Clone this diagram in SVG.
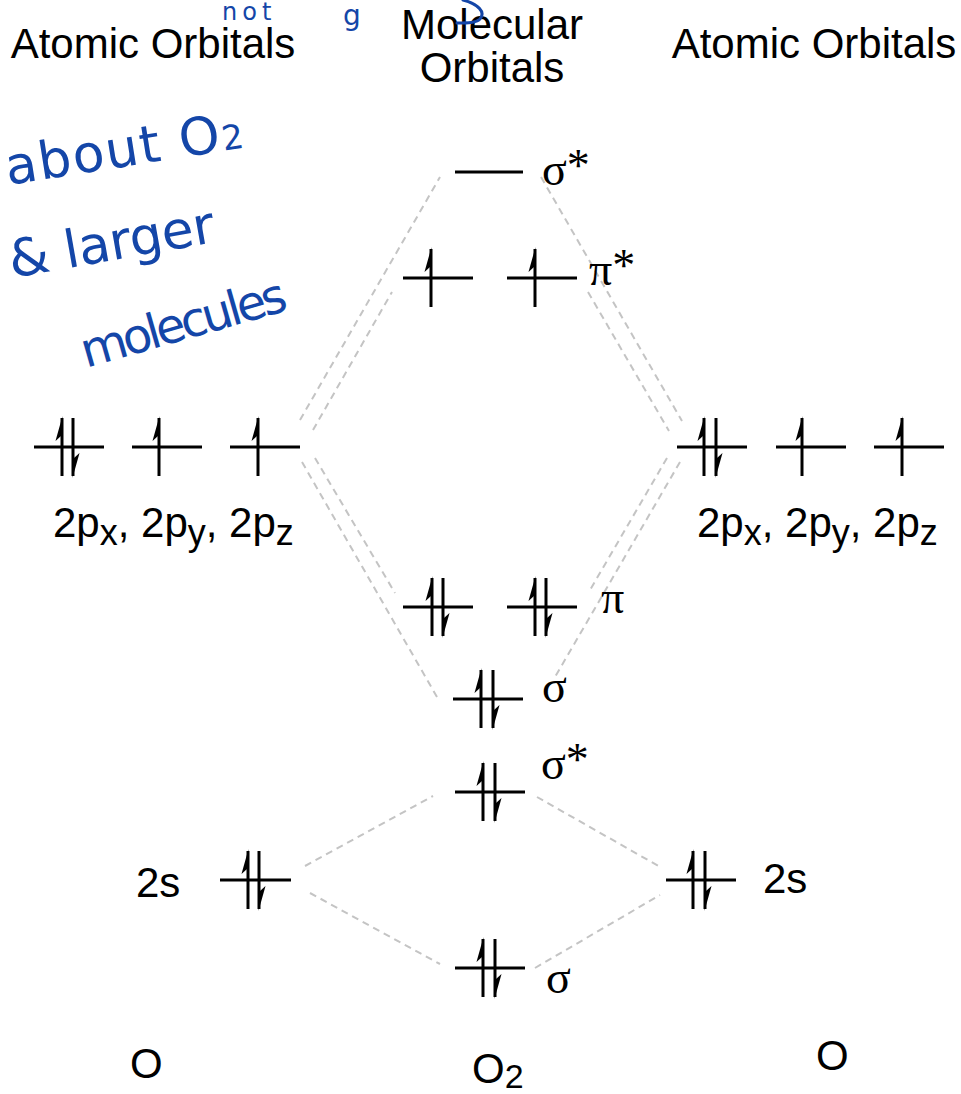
<svg xmlns="http://www.w3.org/2000/svg" xmlns:xlink="http://www.w3.org/1999/xlink" width="961" height="1094" viewBox="0 0 961 1094">
<style>
.t{font-family:"Liberation Sans",Arial,sans-serif;font-size:42px;fill:#000}
.g{font-family:"Liberation Serif","Times New Roman",serif;font-size:46px;fill:#000}
.lv{stroke:#000;stroke-width:3;fill:none}
.ar line{stroke:#000;stroke-width:3}
.ar polygon{fill:#000}
.dash{stroke:#c4c4c4;stroke-width:2;stroke-dasharray:7 5;fill:none}
.hw{font-family:"DejaVu Sans",sans-serif;fill:#1446a8}
</style>
<defs>
<g id="up" class="ar"><line x1="0" y1="-29" x2="0" y2="29"/><polygon points="0.5,-31 -6.5,-6 -1,-11"/></g>
<g id="dn" class="ar"><line x1="0" y1="-29" x2="0" y2="29"/><polygon points="-0.5,31 6.5,6 1,11"/></g>
</defs>
<rect width="961" height="1094" fill="#fff"/>

<g id="connectors">
<line class="dash" x1="300" y1="420" x2="440" y2="177"/>
<line class="dash" x1="313" y1="430" x2="392" y2="292"/>
<line class="dash" x1="302" y1="462" x2="437" y2="697"/>
<line class="dash" x1="315" y1="458" x2="395" y2="593"/>
<line class="dash" x1="541" y1="177" x2="682" y2="421"/>
<line class="dash" x1="588" y1="292" x2="669" y2="431"/>
<line class="dash" x1="680" y1="462" x2="555" y2="677"/>
<line class="dash" x1="667" y1="458" x2="590" y2="590"/>
<line class="dash" x1="305" y1="866" x2="433" y2="796"/>
<line class="dash" x1="310" y1="893" x2="440" y2="964"/>
<line class="dash" x1="537" y1="797" x2="662" y2="868"/>
<line class="dash" x1="535" y1="968" x2="660" y2="895"/>
</g>

<g id="titles">
<text class="t" x="153" y="58" text-anchor="middle">Atomic Orbitals</text>
<text class="t" x="492" y="39" text-anchor="middle">Molecular</text>
<text class="t" x="492" y="82" text-anchor="middle">Orbitals</text>
<text class="t" x="814" y="58" text-anchor="middle">Atomic Orbitals</text>
</g>

<g id="left-2p">
<line class="lv" x1="34" y1="447" x2="104" y2="447"/>
<use xlink:href="#up" x="62" y="447"/><use xlink:href="#dn" x="73" y="447"/>
<line class="lv" x1="132" y1="447" x2="202" y2="447"/>
<use xlink:href="#up" x="159" y="447"/>
<line class="lv" x1="230" y1="447" x2="300" y2="447"/>
<use xlink:href="#up" x="258" y="447"/>
<text class="t" x="53" y="537">2p<tspan font-size="36" dy="8">x</tspan><tspan dy="-8">, 2p</tspan><tspan font-size="36" dy="8">y</tspan><tspan dy="-8">, 2p</tspan><tspan font-size="36" dy="8">z</tspan></text>
</g>

<g id="right-2p">
<line class="lv" x1="677" y1="447" x2="747" y2="447"/>
<use xlink:href="#up" x="704" y="447"/><use xlink:href="#dn" x="716" y="447"/>
<line class="lv" x1="776" y1="447" x2="846" y2="447"/>
<use xlink:href="#up" x="802" y="447"/>
<line class="lv" x1="874" y1="447" x2="944" y2="447"/>
<use xlink:href="#up" x="902" y="447"/>
<text class="t" x="697" y="537">2p<tspan font-size="36" dy="8">x</tspan><tspan dy="-8">, 2p</tspan><tspan font-size="36" dy="8">y</tspan><tspan dy="-8">, 2p</tspan><tspan font-size="36" dy="8">z</tspan></text>
</g>

<g id="mo-sigma-star-2p">
<line class="lv" x1="455" y1="172" x2="523" y2="172"/>
<text class="g" x="542" y="185">σ<tspan dy="-4">*</tspan></text>
</g>

<g id="mo-pi-star">
<line class="lv" x1="403" y1="278" x2="473" y2="278"/>
<use xlink:href="#up" x="431" y="278"/>
<line class="lv" x1="507" y1="278" x2="577" y2="278"/>
<use xlink:href="#up" x="535" y="278"/>
<text class="g" x="589" y="285">π<tspan dy="-4">*</tspan></text>
</g>

<g id="mo-pi">
<line class="lv" x1="403" y1="607" x2="473" y2="607"/>
<use xlink:href="#up" x="432" y="607"/><use xlink:href="#dn" x="443" y="607"/>
<line class="lv" x1="507" y1="607" x2="577" y2="607"/>
<use xlink:href="#up" x="535" y="607"/><use xlink:href="#dn" x="546" y="607"/>
<text class="g" x="601" y="613">π</text>
</g>

<g id="mo-sigma-2p">
<line class="lv" x1="453" y1="699" x2="523" y2="699"/>
<use xlink:href="#up" x="481" y="699"/><use xlink:href="#dn" x="493" y="699"/>
<text class="g" x="542" y="702">σ</text>
</g>

<g id="mo-sigma-star-2s">
<line class="lv" x1="455" y1="792" x2="525" y2="792"/>
<use xlink:href="#up" x="483" y="792"/><use xlink:href="#dn" x="495" y="792"/>
<text class="g" x="541" y="779">σ<tspan dy="-4">*</tspan></text>
</g>

<g id="mo-sigma-2s">
<line class="lv" x1="455" y1="968" x2="525" y2="968"/>
<use xlink:href="#up" x="483" y="968"/><use xlink:href="#dn" x="495" y="968"/>
<text class="g" x="546" y="993">σ</text>
</g>

<g id="left-2s">
<line class="lv" x1="220" y1="880" x2="291" y2="880"/>
<use xlink:href="#up" x="248" y="880"/><use xlink:href="#dn" x="259" y="880"/>
<text class="t" x="136" y="897">2s</text>
</g>

<g id="right-2s">
<line class="lv" x1="666" y1="880" x2="736" y2="880"/>
<use xlink:href="#up" x="693" y="880"/><use xlink:href="#dn" x="705" y="880"/>
<text class="t" x="763" y="893">2s</text>
</g>

<g id="bottom-labels">
<text class="t" x="130" y="1078">O</text>
<text class="t" x="472" y="1083">O<tspan font-size="34" dy="5">2</tspan></text>
<text class="t" x="816" y="1070">O</text>
</g>

<g id="handwriting">
<text class="hw" x="222" y="20" font-size="24" letter-spacing="5">not</text>
<text class="hw" x="343" y="25" font-size="28">g</text>
<path d="M463,0 C478,4 486,12 480,19 C476,23 468,23 457,23" fill="none" stroke="#1446a8" stroke-width="3" stroke-linecap="round"/>
<text class="hw" x="8" y="185" font-size="52" transform="rotate(-9 8 185)" textLength="240" lengthAdjust="spacing">about O<tspan font-size="34">2</tspan></text>
<text class="hw" x="12" y="278" font-size="52" transform="rotate(-10 12 278)" textLength="208" lengthAdjust="spacing">&amp; larger</text>
<text class="hw" x="86" y="368" font-size="48" transform="rotate(-16 86 368)" textLength="212" lengthAdjust="spacing">molecules</text>
</g>
</svg>
